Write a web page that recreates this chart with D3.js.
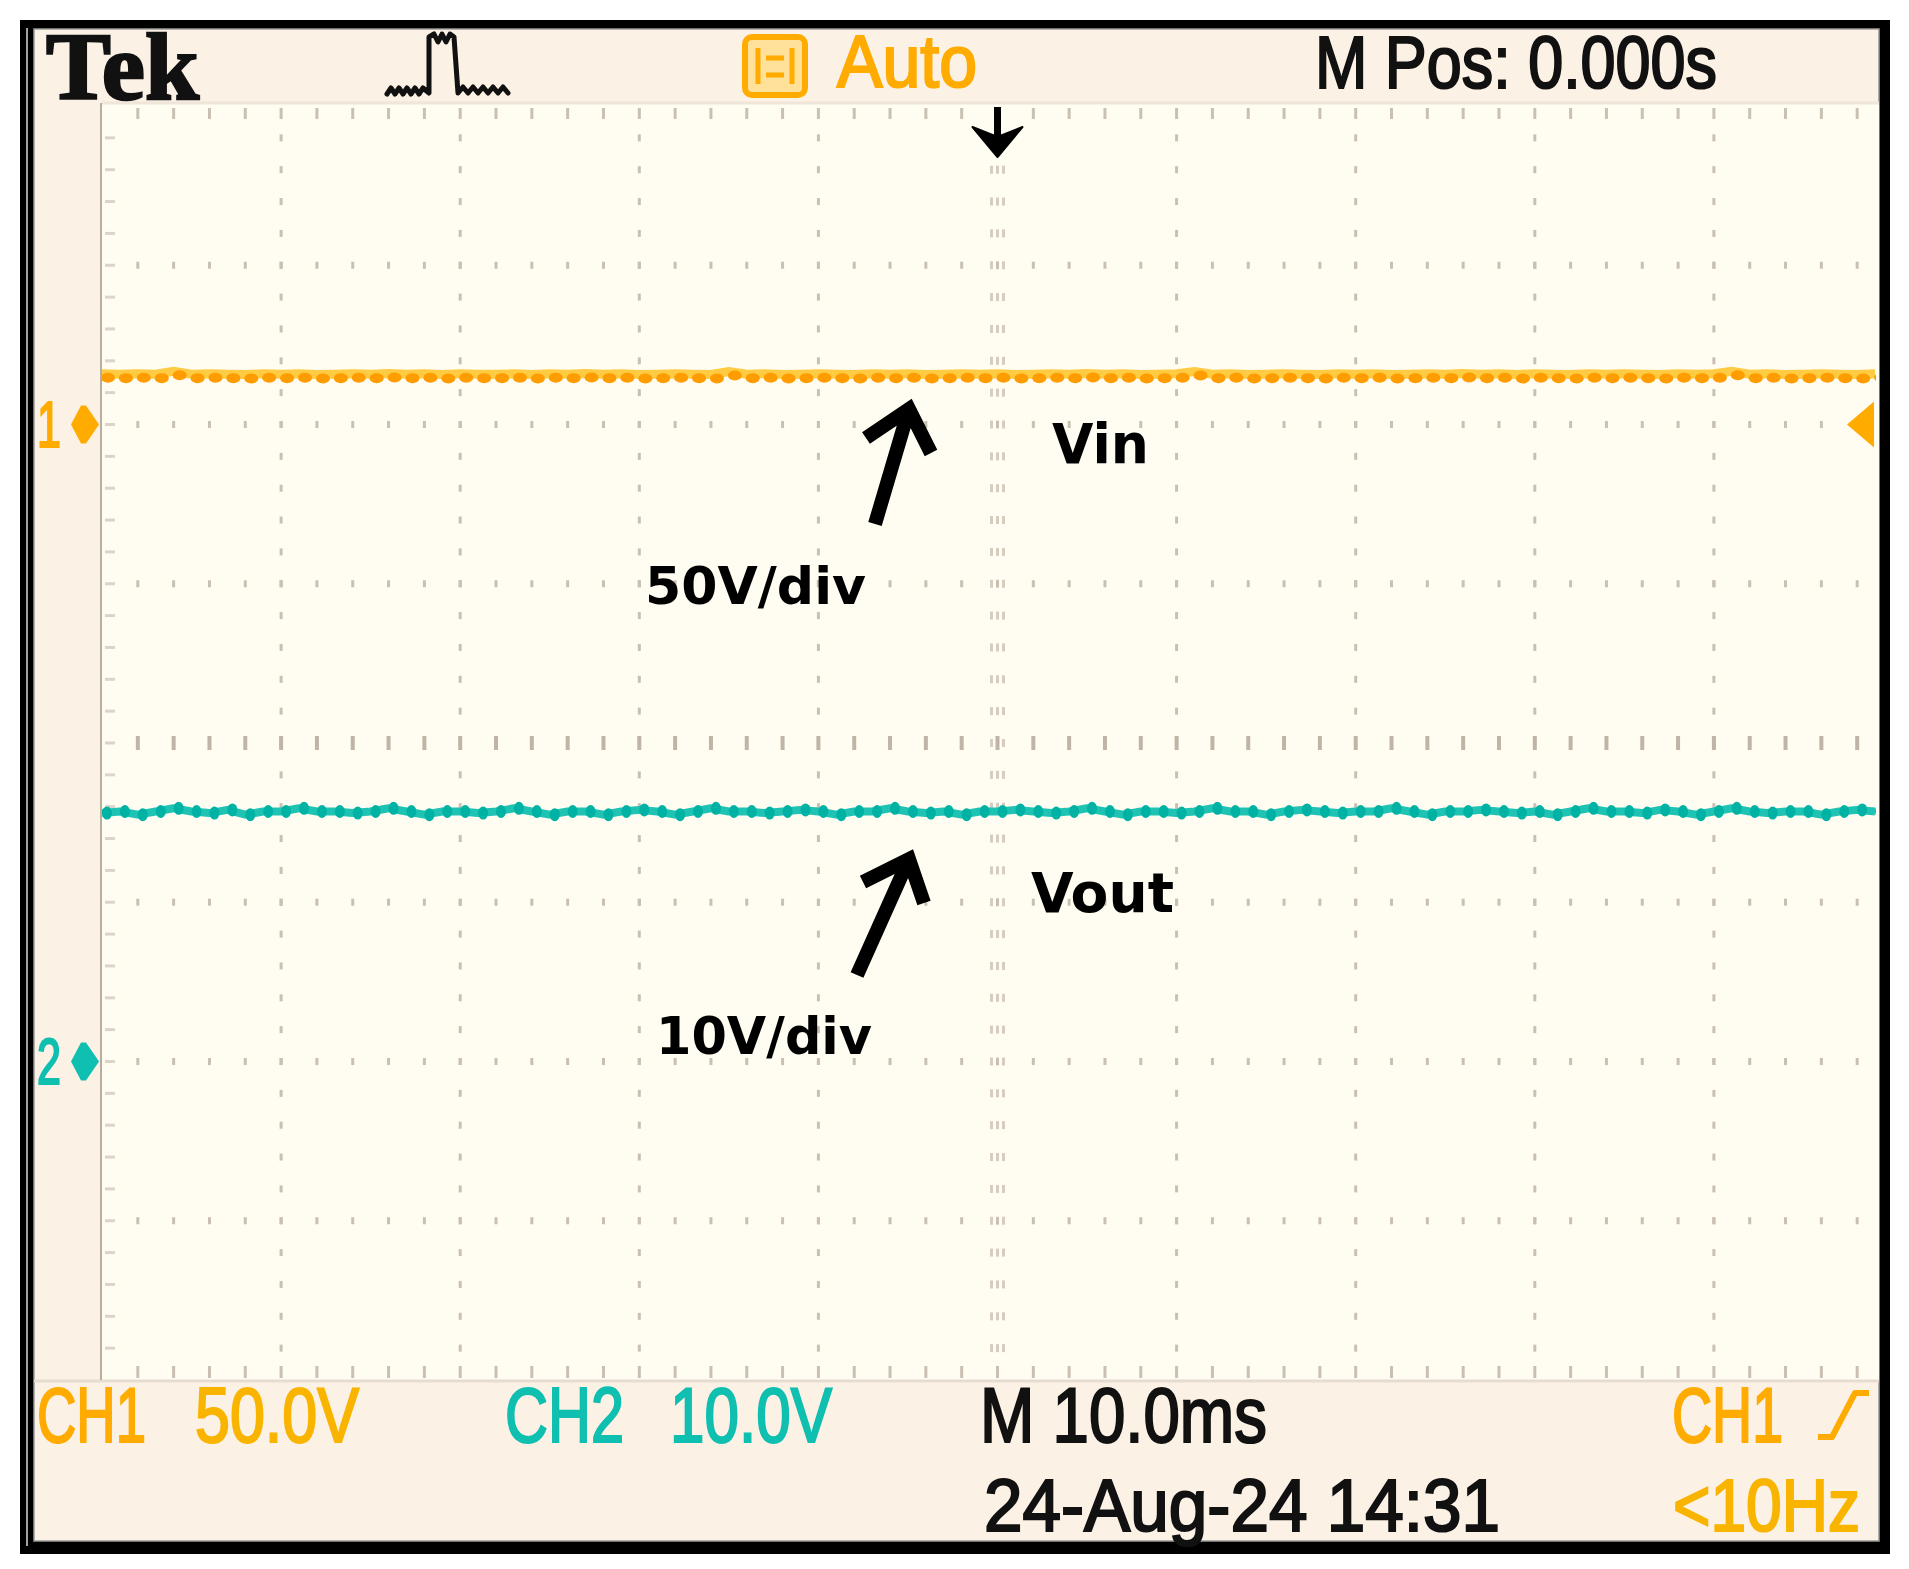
<!DOCTYPE html>
<html>
<head>
<meta charset="utf-8">
<script src="https://cdn.jsdelivr.net/npm/d3@7"></script>
<style>
  body { margin: 0; background: #fff; }
  .scope { font-family: "Liberation Sans Narrow", "Liberation Sans", sans-serif; stroke-width: 2.2; paint-order: stroke; }
  .note { font-family: "DejaVu Sans", Verdana, sans-serif; font-weight: bold; fill: #000; }
</style>
</head>
<body>
<svg width="1909" height="1569"></svg>
<script>
// scope settings
var ch1VoltsPerDiv = 50,
    ch2VoltsPerDiv = 10,
    ch1GroundDiv = 2,
    ch2GroundDiv = -2,
    msPerDiv = 10;

// sample times (ms) for the traces, one every millisecond
var sampleTimes = d3.range(-50, 50, 1);

// CH1 = Vin (volts)
var ch1Volts = [
  15.6,15.5,15.6,15.5,16.4,15.5,15.6,15.5,15.4,15.6,
  15.5,15.6,15.4,15.5,15.6,15.5,15.7,15.5,15.6,15.4,
  15.6,15.5,15.5,15.6,15.4,15.6,15.5,15.7,15.5,15.6,
  15.4,15.5,15.6,15.5,15.4,16.3,15.5,15.6,15.4,15.5,
  15.6,15.5,15.4,15.6,15.5,15.6,15.4,15.5,15.6,15.5,
  15.6,15.4,15.5,15.6,15.5,15.7,15.5,15.6,15.4,15.5,
  15.6,16.3,15.5,15.6,15.4,15.5,15.6,15.5,15.4,15.6,
  15.5,15.6,15.4,15.5,15.6,15.5,15.7,15.5,15.6,15.4,
  15.6,15.5,15.4,15.6,15.5,15.6,15.5,15.4,15.6,15.5,
  15.6,16.4,15.5,15.6,15.4,15.5,15.6,15.5,15.4,15.6
];

// CH2 = Vout (volts)
var ch2Volts = [
  15.6,15.7,15.5,15.7,15.9,15.7,15.6,15.8,15.5,15.7,
  15.7,15.9,15.7,15.7,15.6,15.7,15.9,15.7,15.5,15.7,
  15.7,15.6,15.7,15.9,15.7,15.5,15.7,15.7,15.5,15.7,
  15.8,15.7,15.5,15.7,15.9,15.7,15.7,15.6,15.7,15.8,
  15.7,15.5,15.7,15.7,15.9,15.7,15.6,15.7,15.5,15.7,
  15.7,15.8,15.7,15.6,15.7,15.9,15.7,15.5,15.7,15.7,
  15.6,15.7,15.9,15.7,15.7,15.5,15.7,15.8,15.7,15.6,
  15.7,15.7,15.9,15.7,15.5,15.7,15.7,15.8,15.7,15.6,
  15.7,15.5,15.7,15.9,15.7,15.7,15.6,15.8,15.7,15.5,
  15.7,15.9,15.7,15.6,15.7,15.7,15.5,15.7,15.8,15.7
];

var headerTexts = ["Auto", "M Pos: 0.000s"];
var footerTexts = ["CH1", "50.0V", "CH2", "10.0V", "M 10.0ms", "CH1", "24-Aug-24 14:31", "<10Hz"];
var noteTexts = ["Vin", "50V/div", "Vout", "10V/div"];

var svg = d3.select("svg");

var orange = "#ffab00",
    amber = "#f9b400",
    teal = "#0fbfb0",
    gridCol = "#c9bfb2";

var plotLeft = 102, plotTop = 106, divW = 179.1, divH = 159.25,
    plotRight = 1876, plotBottom = plotTop + 8 * divH;

var x = d3.scaleLinear().domain([-5 * msPerDiv, 5 * msPerDiv]).range([plotLeft, plotLeft + 10 * divW]);
var yDiv = d3.scaleLinear().domain([-4, 4]).range([plotBottom, plotTop]);

// frame and backgrounds
svg.append("rect").attr("x", 20).attr("y", 20).attr("width", 1870).attr("height", 1534).attr("fill", "#000");
svg.append("rect").attr("x", 34).attr("y", 29).attr("width", 1845).attr("height", 1512).attr("fill", "#fcf1e5");
svg.append("line").attr("x1", 27).attr("x2", 27).attr("y1", 28).attr("y2", 1546)
  .attr("stroke", "#d8d8d8").attr("stroke-width", 1.5);
svg.append("rect").attr("x", 34).attr("y", 29).attr("width", 1845).attr("height", 1512)
  .attr("fill", "none").attr("stroke", "#9a9a9a").attr("stroke-width", 1.5);
svg.append("rect").attr("x", plotLeft).attr("y", 103).attr("width", plotRight - plotLeft + 3).attr("height", plotBottom - 103)
  .attr("fill", "#fffdf2");
svg.append("line").attr("x1", 34).attr("x2", 1879).attr("y1", plotBottom + 1).attr("y2", plotBottom + 1)
  .attr("stroke", "#e6ddd0").attr("stroke-width", 3);
svg.append("line").attr("x1", plotLeft).attr("x2", plotRight + 3).attr("y1", 103).attr("y2", 103)
  .attr("stroke", "#efe5d8").attr("stroke-width", 3);
svg.append("line").attr("x1", plotLeft - 1).attr("x2", plotLeft - 1).attr("y1", 103).attr("y2", plotBottom)
  .attr("stroke", "#b9ada0").attr("stroke-width", 2);

// graticule
var grid = svg.append("g").attr("clip-path", "url(#plotClip)");
svg.append("clipPath").attr("id", "plotClip").append("rect")
  .attr("x", plotLeft).attr("y", plotTop - 4).attr("width", plotRight - plotLeft).attr("height", plotBottom - plotTop + 6);

var minorX = d3.range(1, 50), minorY = d3.range(1, 40);

// dotted vertical division lines
[1, 2, 3, 4, 6, 7, 8, 9].forEach(function(i) {
  grid.selectAll(null).data(minorY).enter().append("rect")
    .attr("x", plotLeft + i * divW - 1.5).attr("y", function(j) { return plotTop + j * divH / 5 - 3.5; })
    .attr("width", 3).attr("height", 7).attr("fill", gridCol);
});
// centre vertical: triple marks
grid.selectAll(null).data(minorY).enter().append("g")
  .attr("transform", function(j) { return "translate(" + (plotLeft + 5 * divW) + "," + (plotTop + j * divH / 5) + ")"; })
  .selectAll("rect").data([-6, 0, 6]).enter().append("rect")
    .attr("x", function(o) { return o - 1.5; }).attr("y", -4).attr("width", 3).attr("height", 8).attr("fill", "#d6ccbf");

// dotted horizontal division lines
[1, 2, 3, 5, 6, 7].forEach(function(k) {
  grid.selectAll(null).data(minorX).enter().append("rect")
    .attr("x", function(j) { return plotLeft + j * divW / 5 - 1.5; }).attr("y", plotTop + k * divH - 3.5)
    .attr("width", 3).attr("height", 7).attr("fill", gridCol);
});
// centre horizontal: bigger ticks
grid.selectAll(null).data(minorX).enter().append("rect")
  .attr("x", function(j) { return plotLeft + j * divW / 5 - 2; }).attr("y", plotTop + 4 * divH - 7)
  .attr("width", 4).attr("height", 14).attr("fill", "#bfb4a6");

// edge ticks
grid.selectAll(null).data(minorX).enter().append("rect")
  .attr("x", function(j) { return plotLeft + j * divW / 5 - 1.5; }).attr("y", plotTop + 2)
  .attr("width", 3).attr("height", 11).attr("fill", gridCol);
grid.selectAll(null).data(minorX).enter().append("rect")
  .attr("x", function(j) { return plotLeft + j * divW / 5 - 1.5; }).attr("y", plotBottom - 14)
  .attr("width", 3).attr("height", 12).attr("fill", gridCol);
grid.selectAll(null).data(minorY).enter().append("rect")
  .attr("x", plotLeft + 3).attr("y", function(j) { return plotTop + j * divH / 5 - 1.5; })
  .attr("width", 10).attr("height", 3).attr("fill", "#ddd4c8");

// traces
var traces = svg.append("g").attr("clip-path", "url(#plotClip)");

function chY(v, vpd, gnd) { return yDiv(gnd + v / vpd); }

var ch1 = sampleTimes.map(function(t, i) { return { t: t, v: ch1Volts[i] }; });
var ch2 = sampleTimes.map(function(t, i) { return { t: t, v: ch2Volts[i] }; });

var line1 = d3.line()
  .x(function(d) { return x(d.t); })
  .y(function(d) { return chY(d.v, ch1VoltsPerDiv, ch1GroundDiv) - 1; });
var line2 = d3.line()
  .x(function(d) { return x(d.t); })
  .y(function(d) { return chY(d.v, ch2VoltsPerDiv, ch2GroundDiv); });

traces.append("path").datum(ch1).attr("d", line1)
  .attr("fill", "none").attr("stroke", "#ffcb42").attr("stroke-width", 9);
traces.selectAll(".d1").data(ch1).enter().append("ellipse")
  .attr("class", "d1")
  .attr("cx", function(d) { return x(d.t) + 6; })
  .attr("cy", function(d) { return chY(d.v, ch1VoltsPerDiv, ch1GroundDiv) + 3; })
  .attr("rx", 7).attr("ry", 5).attr("fill", "#ff9c00");

traces.append("path").datum(ch2).attr("d", line2)
  .attr("fill", "none").attr("stroke", "#1fc3b3").attr("stroke-width", 8)
  .attr("stroke-linejoin", "round");
traces.selectAll(".d2").data(ch2).enter().append("ellipse")
  .attr("class", "d2")
  .attr("cx", function(d) { return x(d.t) + 5; })
  .attr("cy", function(d) { return chY(d.v, ch2VoltsPerDiv, ch2GroundDiv); })
  .attr("rx", 5).attr("ry", 6.5).attr("fill", "#00b2a3");

// channel ground markers on the left
function groundMarker(label, gnd, color) {
  var gy = yDiv(gnd);
  svg.append("text").attr("class", "scope")
    .attr("x", 37).attr("y", gy + 22).attr("font-size", 64).attr("fill", color).attr("stroke", color)
    .attr("textLength", 24).attr("lengthAdjust", "spacingAndGlyphs")
    .text(label);
  svg.append("path")
    .attr("d", "M71," + gy + " L81," + (gy - 19) + " L86," + (gy - 19) + " L99," + gy +
      " L86," + (gy + 19) + " L81," + (gy + 19) + "Z")
    .attr("fill", color);
}
groundMarker("1", ch1GroundDiv, orange);
groundMarker("2", ch2GroundDiv, teal);

// trigger level marker on the right
var trigY = yDiv(ch1GroundDiv);
svg.append("path")
  .attr("d", "M1847," + trigY + " L1874," + (trigY - 23) + " L1874," + (trigY + 23) + "Z")
  .attr("fill", orange);

// trigger position arrow
svg.append("line").attr("x1", x(0)).attr("x2", x(0)).attr("y1", 107).attr("y2", 142)
  .attr("stroke", "#000").attr("stroke-width", 7);
svg.append("path")
  .attr("d", "M" + (x(0) - 25) + ",127 L" + x(0) + ",137 L" + (x(0) + 25) + ",127 L" + x(0) + ",157Z")
  .attr("fill", "#000").attr("stroke", "#000").attr("stroke-width", 2).attr("stroke-linejoin", "round");

// header
svg.append("text")
  .attr("x", 46).attr("y", 99)
  .attr("font-family", "'Liberation Serif', 'DejaVu Serif', serif").attr("font-weight", "bold")
  .attr("font-size", 96).attr("fill", "#111").attr("stroke", "#111").attr("stroke-width", 2.5)
  .attr("textLength", 153).attr("lengthAdjust", "spacingAndGlyphs")
  .text("Tek");

svg.append("path")
  .attr("d", "M387,94 l4,-6 l4,6 l4,-6 l4,6 l4,-6 l4,6 l4,-6 l4,6 l4,-6 L429,93 L429,37 " +
    "l5,-3 l4,8 l4,-8 l4,8 l4,-8 l4,3 L458,93 l5,-6 l5,6 l5,-6 l5,6 l5,-6 l5,6 l5,-6 l5,6 l5,-6 l5,6")
  .attr("fill", "none").attr("stroke", "#111").attr("stroke-width", 5)
  .attr("stroke-linejoin", "round").attr("stroke-linecap", "round");

svg.append("rect").attr("x", 745).attr("y", 37).attr("width", 60).attr("height", 58).attr("rx", 7)
  .attr("fill", "#ffe19a").attr("stroke", orange).attr("stroke-width", 6);
svg.append("path")
  .attr("d", "M758,48 L758,84 M792,48 L792,84 M766,58 L784,58 M766,75 L784,75")
  .attr("stroke", orange).attr("stroke-width", 5).attr("fill", "none");

var header = [
  { x: 837, y: 87, w: 140, color: orange },
  { x: 1315, y: 88, w: 402, color: "#111" }
];
svg.selectAll(".hdr").data(headerTexts).enter().append("text")
  .attr("class", "scope hdr")
  .attr("x", function(d, i) { return header[i].x; })
  .attr("y", function(d, i) { return header[i].y; })
  .attr("font-size", 74)
  .attr("fill", function(d, i) { return header[i].color; })
  .attr("stroke", function(d, i) { return header[i].color; })
  .attr("textLength", function(d, i) { return header[i].w; })
  .attr("lengthAdjust", "spacingAndGlyphs")
  .text(function(d) { return d; });

// footer
var footer = [
  { x: 37, y: 1442, w: 109, color: orange },
  { x: 195, y: 1442, w: 164, color: amber },
  { x: 505, y: 1442, w: 119, color: teal },
  { x: 670, y: 1442, w: 162, color: teal },
  { x: 980, y: 1442, w: 287, color: "#111" },
  { x: 1672, y: 1442, w: 111, color: orange },
  { x: 984, y: 1531, w: 516, color: "#111" },
  { x: 1673, y: 1531, w: 187, color: amber }
];
svg.selectAll(".ftr").data(footerTexts).enter().append("text")
  .attr("class", "scope ftr")
  .attr("x", function(d, i) { return footer[i].x; })
  .attr("y", function(d, i) { return footer[i].y; })
  .attr("font-size", function(d, i) { return i < 6 ? 77 : 74; })
  .attr("fill", function(d, i) { return footer[i].color; })
  .attr("stroke", function(d, i) { return footer[i].color; })
  .attr("textLength", function(d, i) { return footer[i].w; })
  .attr("lengthAdjust", "spacingAndGlyphs")
  .text(function(d) { return d; });

// rising slope symbol
svg.append("path")
  .attr("d", "M1818,1437 L1832,1437 L1855,1393 L1869,1393")
  .attr("fill", "none").attr("stroke", orange).attr("stroke-width", 6).attr("stroke-linejoin", "round");

// annotations
var notes = [
  { x: 1052, y: 463, size: 56, w: 97 },
  { x: 645, y: 604, size: 52, w: 221 },
  { x: 1031, y: 912, size: 55, w: 143 },
  { x: 656, y: 1054, size: 52, w: 216 }
];
svg.selectAll(".note").data(noteTexts).enter().append("text")
  .attr("class", "note")
  .attr("x", function(d, i) { return notes[i].x; })
  .attr("y", function(d, i) { return notes[i].y; })
  .attr("font-size", function(d, i) { return notes[i].size; })
  .attr("textLength", function(d, i) { return notes[i].w; })
  .attr("lengthAdjust", "spacingAndGlyphs")
  .text(function(d) { return d; });

var arrows = [
  { tail: [875, 524], tip: [909, 409], left: [866, 438], right: [931, 453] },
  { tail: [857, 975], tip: [909, 859], left: [863, 882], right: [924, 903] }
];
arrows.forEach(function(a) {
  svg.append("path")
    .attr("d", "M" + a.tail + " L" + a.tip + " M" + a.left + " L" + a.tip + " L" + a.right)
    .attr("fill", "none").attr("stroke", "#000").attr("stroke-width", 14)
    .attr("stroke-linejoin", "miter").attr("stroke-miterlimit", 6);
});
</script>
</body>
</html>
